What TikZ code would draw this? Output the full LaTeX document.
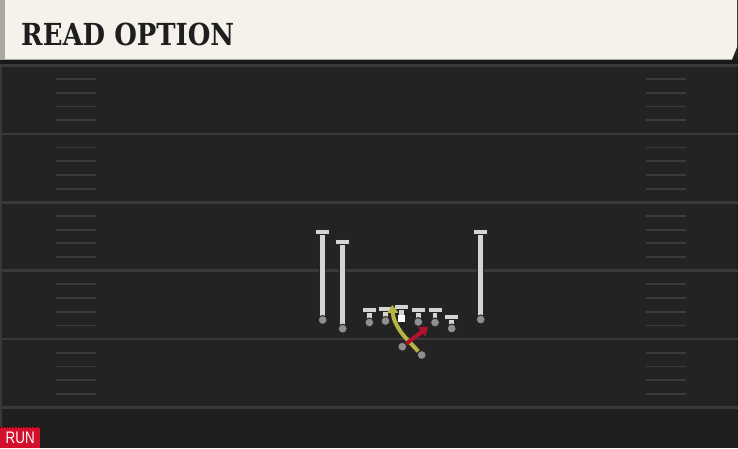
\documentclass[tikz,border=0pt]{standalone}
\usepackage{fontspec}
\usepackage{graphicx}
\usetikzlibrary{arrows.meta}
\newfontfamily\titlefont{DejaVu Serif}
\newfontfamily\tagfont{Liberation Sans}
\definecolor{fieldcol}{HTML}{232323}
\definecolor{fieldlow}{HTML}{1F1F1F}
\definecolor{yardcol}{HTML}{393939}
\definecolor{hashcol}{HTML}{3B3B3B}
\definecolor{papercol}{HTML}{F5F2EB}
\definecolor{paperedge}{HTML}{A9A9A4}
\definecolor{inkcol}{HTML}{1E1E1E}
\definecolor{blockcol}{HTML}{D4D4D4}
\definecolor{dotcol}{HTML}{8F8F8F}
\definecolor{readcol}{HTML}{B3102C}
\definecolor{optcol}{HTML}{B6B544}
\definecolor{runcol}{HTML}{D3102B}
\tikzset{
  player/.style={circle,fill=dotcol,draw=black!85,line width=1pt,minimum size=9pt,inner sep=0pt},
  ball/.style={rectangle,fill=white,minimum size=7.5pt,inner sep=0pt},
  yard/.style={draw=yardcol,line width=2.6pt},
  hashmark/.style={draw=hashcol,line width=1.8pt},
  route/.style={line width=4pt,-{Triangle[length=8pt,width=11pt]}},
}
% blocking T: x, top of bar, bottom of stem
\newcommand\blockT[3]{%
  \draw[black!85,line width=6.5pt] (#1,#2) -- (#1,#3);
  \draw[blockcol,line width=4.5pt] (#1,#2) -- (#1,#3);
  \filldraw[fill=blockcol,draw=black!85,line width=1pt] (#1-7,#2) rectangle (#1+7,#2+5);
}
\begin{document}
\begin{tikzpicture}[x=1pt,y=-1pt]
\useasboundingbox (0,0) rectangle (738,448);
% field
\fill[fieldcol] (0,0) rectangle (738,448);
\fill[fieldlow] (0,409) rectangle (738,448);
\fill[yardcol] (0,60) rectangle (2,428);
\fill[black!15!fieldcol] (736,60) rectangle (738,448);
\foreach \k in {0,...,5}
  \draw[yard] (0,65.5+68.4*\k) -- (738,65.5+68.4*\k);
\foreach \k in {0,...,4}
  \foreach \h in {1,...,4} {
    \draw[hashmark] (56,65.5+68.4*\k+13.68*\h) -- (96,65.5+68.4*\k+13.68*\h);
    \draw[hashmark] (646,65.5+68.4*\k+13.68*\h) -- (686,65.5+68.4*\k+13.68*\h);
  }
% header
\fill[black!90] (0,58) rectangle (738,64);
\fill[papercol] (0,0) -- (737,0) -- (737,47) -- (732,59.5) -- (0,59.5) -- cycle;
\fill[paperedge] (0,0) rectangle (5,59.5);
\node[anchor=base west,inner sep=0pt,text=inkcol] (title) at (21,45)
  {\resizebox{213pt}{22.5pt}{\titlefont\bfseries READ OPTION}};
% receivers
\blockT{322.7}{229}{320}
\blockT{342.7}{239}{328.7}
\blockT{480.7}{229}{319.5}
\node[player] (wra) at (322.7,320) {};
\node[player] (wrb) at (342.7,328.7) {};
\node[player] (wrc) at (480.7,319.5) {};
% line
\foreach \x/\t/\b [count=\i] in {369.3/307/322.5, 385.5/306/321, 418.3/307/322, 435/307/322.5, 451.7/314.5/328.5} {
  \blockT{\x}{\t}{\b}
  \node[player] (ol\i) at (\x,\b) {};
}
\blockT{401.7}{304}{315}
\node[ball] (ctr) at (401.7,318.7) {};
% backfield
\node[player] (qb) at (402.3,346.7) {};
\node[player] (rb) at (421.7,355) {};
\coordinate (mesh) at (403.5,335.5);
\coordinate (hole) at (392.3,305);
\coordinate (edge) at (428,327);
\draw[route,optcol] (rb) -- (mesh) .. controls (396,326) and (393,318) .. (hole);
\draw[route,readcol] (qb) -- (edge);
% tag
\node[anchor=south west,fill=runcol,minimum width=40pt,minimum height=20.5pt,inner sep=0pt,
  text=white] (run) at (0,448) {\resizebox{29pt}{11.5pt}{\tagfont RUN}};
\draw[black,dotted,line width=0.8pt] (run.north west) -- (run.north east);
\end{tikzpicture}
\end{document}
